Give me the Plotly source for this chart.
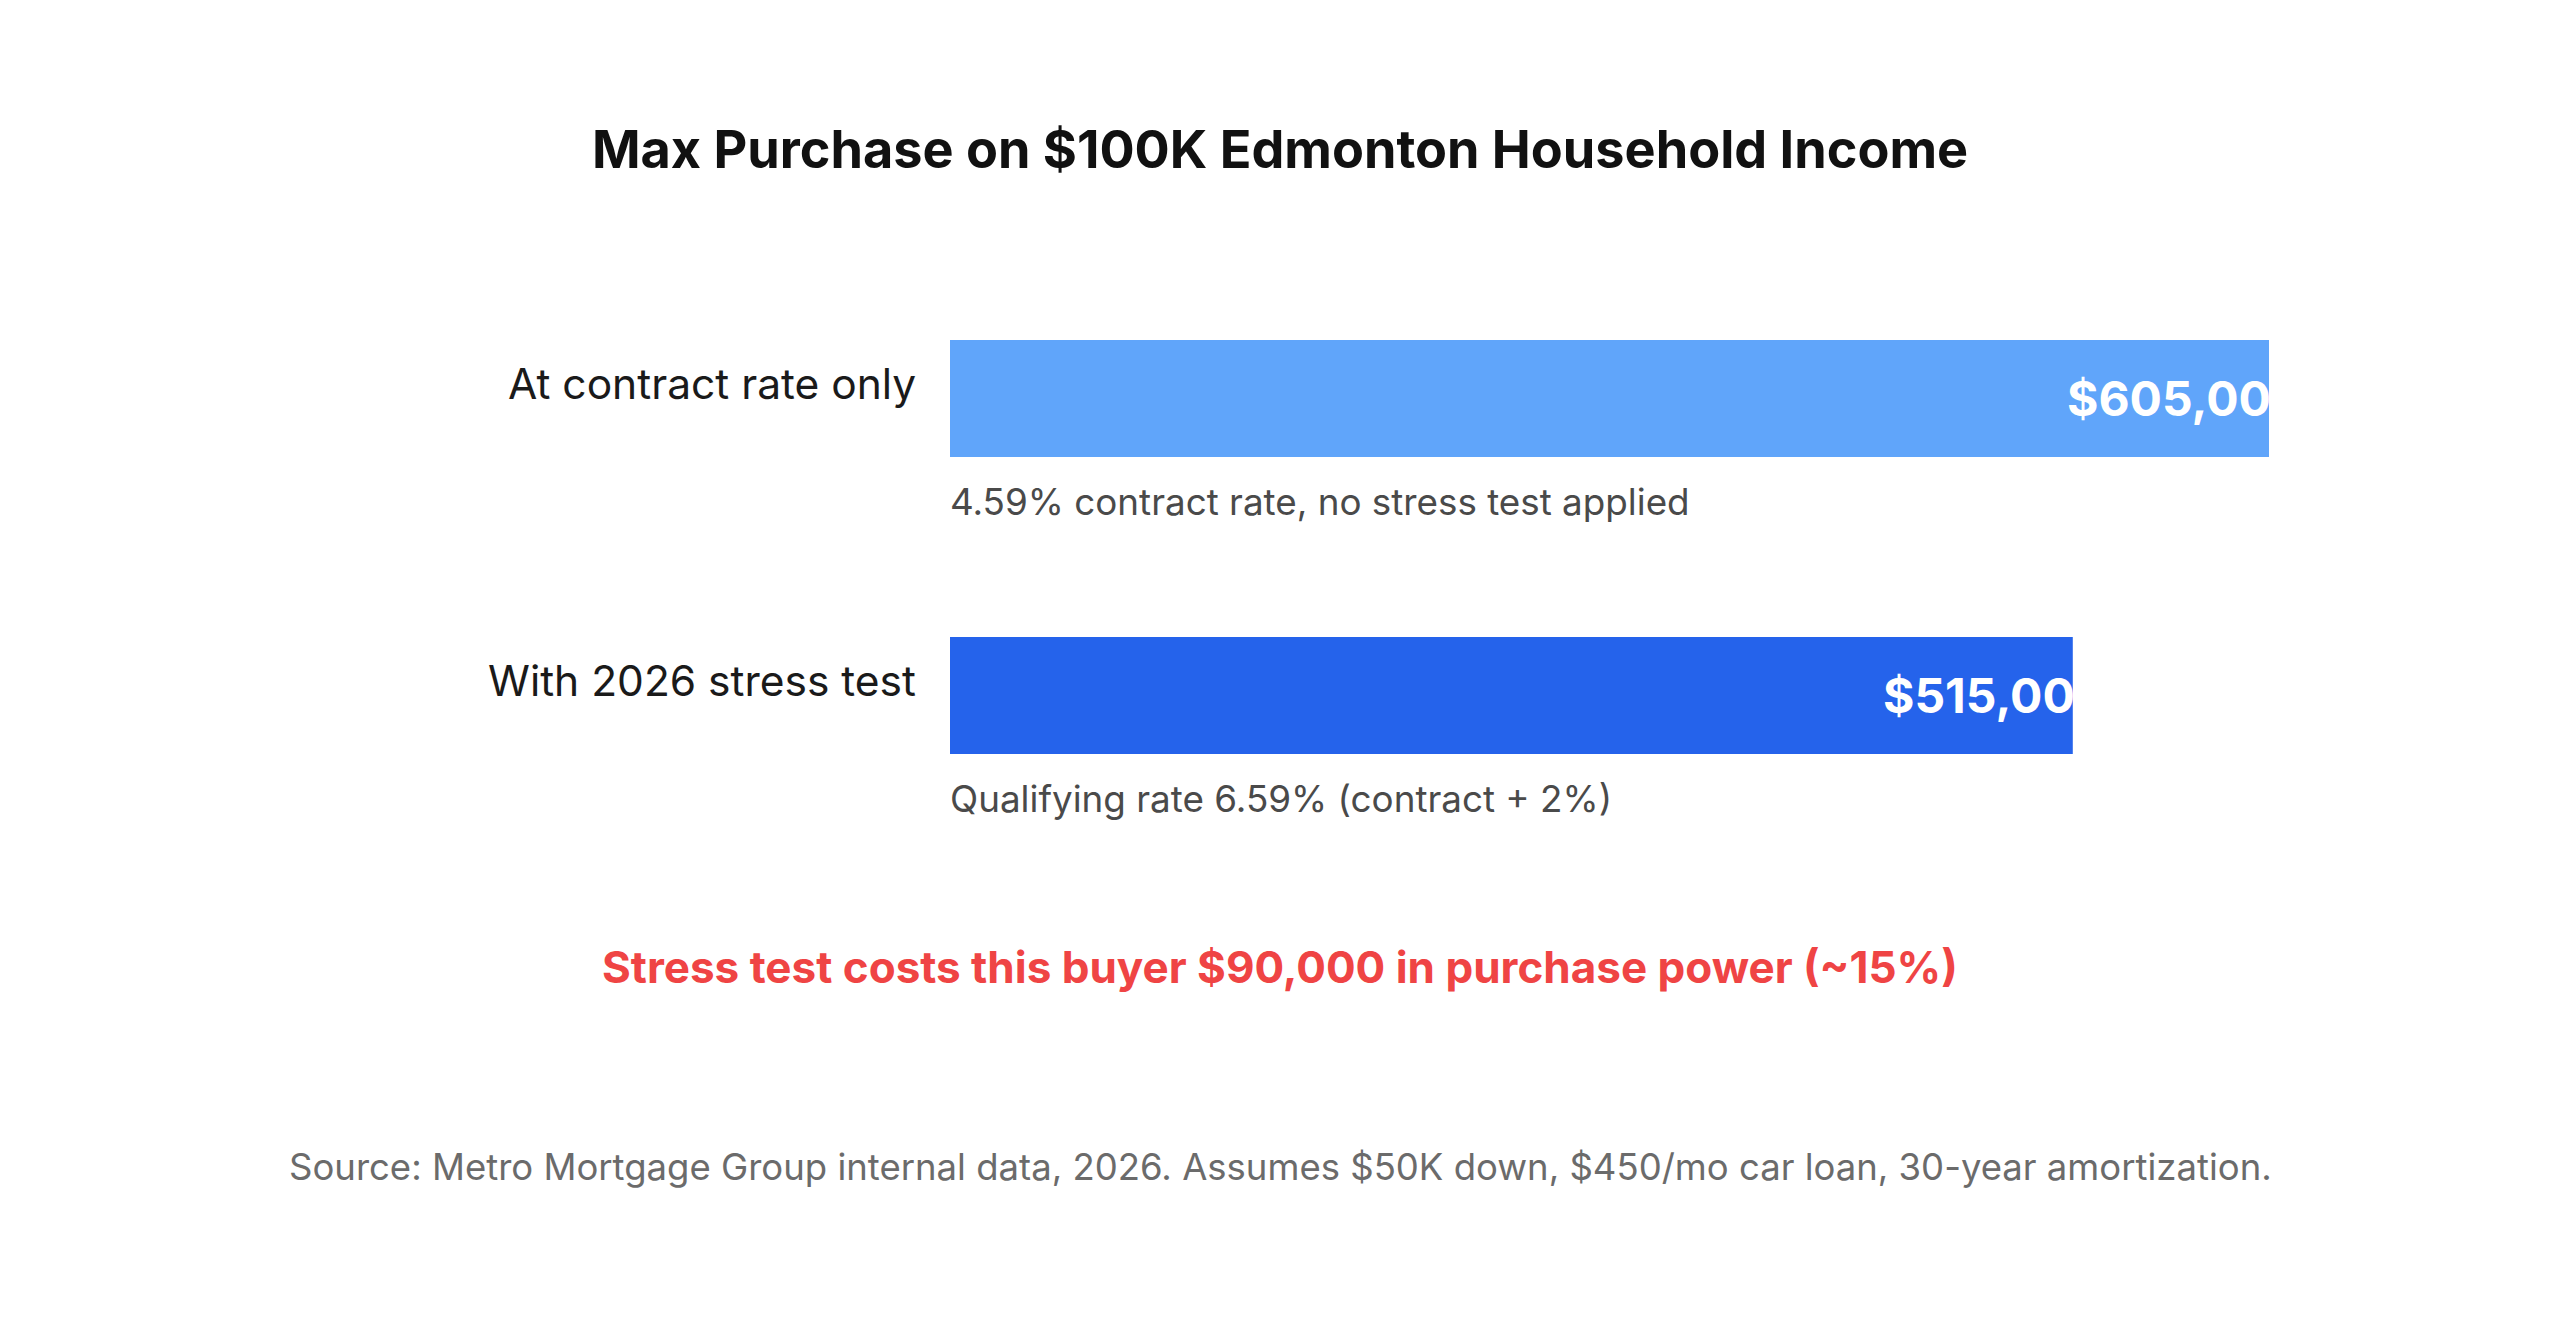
import plotly.graph_objects as go

categories = ["At contract rate only", "With 2026 stress test"]
values = [605000, 515000]
value_labels = ["$605,000", "$515,000"]
notes = ["4.59% contract rate, no stress test applied", "Qualifying rate 6.59% (contract + 2%)"]
bar_colors = ["#60A5FA", "#2563EB"]
title_text = "Max Purchase on $100K Edmonton Household Income"
callout_text = "Stress test costs this buyer $90,000 in purchase power (~15%)"
source_text = "Source: Metro Mortgage Group internal data, 2026. Assumes $50K down, $450/mo car loan, 30-year amortization."

W, H = 2560, 1339
ML, MR, MT, MB = 950, 291, 250, 495
plot_w = W - ML - MR
plot_h = H - MT - MB
FONT = "Inter"


def px_to_paper_x(px):
    return (px - ML) / plot_w


def px_to_paper_y(py):
    return (H - MB - py) / plot_h


fig = go.Figure(
    go.Bar(
        x=values,
        y=categories,
        orientation="h",
        width=0.394,
        marker=dict(color=bar_colors, line=dict(width=0)),
        hoverinfo="skip",
    )
)

annotations = []
for cat, val, lab, note in zip(categories, values, value_labels, notes):
    annotations.append(dict(x=0, y=cat, xref="x", yref="y", text=cat, showarrow=False,
                            xanchor="right", yanchor="middle", xshift=-32, yshift=15,
                            font=dict(family=FONT, size=42.5, color="#1a1a1a")))
    annotations.append(dict(x=0, y=cat, xref="x", yref="y", text=note, showarrow=False,
                            xanchor="left", yanchor="middle", xshift=-2, yshift=-103,
                            font=dict(family=FONT, size=36.8, color="#4a4a4a")))
    annotations.append(dict(x=val, y=cat, xref="x", yref="y", text="<b>" + lab + "</b>", showarrow=False,
                            xanchor="right", yanchor="middle", xshift=36, yshift=0,
                            font=dict(family=FONT, size=48, color="#ffffff")))

annotations.append(dict(x=px_to_paper_x(1280), y=px_to_paper_y(967), xref="paper", yref="paper",
                        text="<b>" + callout_text + "</b>", showarrow=False,
                        xanchor="center", yanchor="middle",
                        font=dict(family=FONT, size=44, color="#EF4444")))
annotations.append(dict(x=px_to_paper_x(1280), y=px_to_paper_y(1167), xref="paper", yref="paper",
                        text=source_text, showarrow=False,
                        xanchor="center", yanchor="middle",
                        font=dict(family=FONT, size=36.5, color="#6b6b6b")))

fig.update_layout(
    width=W, height=H,
    margin=dict(l=ML, r=MR, t=MT, b=MB),
    paper_bgcolor="white", plot_bgcolor="white",
    showlegend=False,
    title=dict(text="<b>" + title_text + "</b>", x=0.5, xref="container", xanchor="center",
               y=1 - 150 / H, yref="container", yanchor="middle",
               font=dict(family=FONT, size=52.2, color="#111111")),
    xaxis=dict(range=[0, max(values)], visible=False, fixedrange=True),
    yaxis=dict(range=[1.5, -0.5], visible=False, fixedrange=True, type="category",
               categoryorder="array", categoryarray=categories),
    annotations=annotations,
)

fig.write_html("out.html", config={"displayModeBar": False},
               post_script="document.body.style.margin='0';")
